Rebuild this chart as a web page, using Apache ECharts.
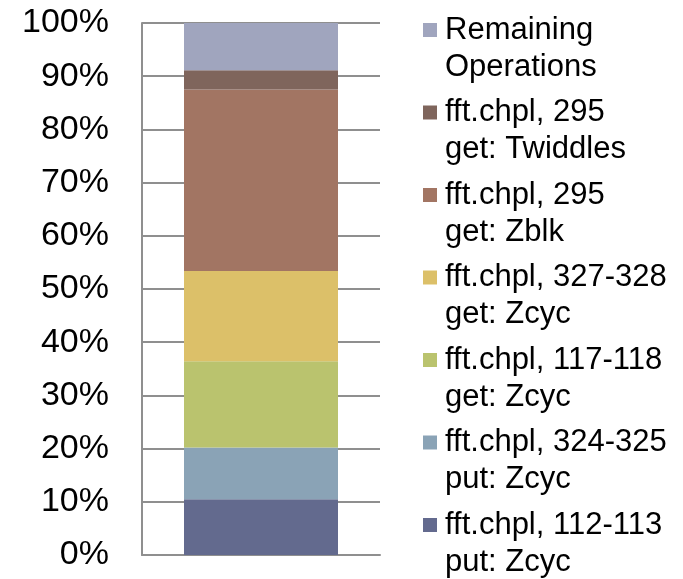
<!DOCTYPE html>
<html>
<head>
<meta charset="utf-8">
<script src="https://cdn.jsdelivr.net/npm/echarts@6/dist/echarts.min.js"></script>
<style>
  html, body { margin: 0; padding: 0; background: #ffffff; }
  #chart { width: 683px; height: 579px; }
</style>
</head>
<body>
<div id="chart"></div>
<script>
// One stacked 100% column, segments listed bottom to top
const categories = ['FFT'];
const seriesNames = [
  'fft.chpl, 112-113\nput: Zcyc',
  'fft.chpl, 324-325\nput: Zcyc',
  'fft.chpl, 117-118\nget: Zcyc',
  'fft.chpl, 327-328\nget: Zcyc',
  'fft.chpl, 295\nget: Zblk',
  'fft.chpl, 295\nget: Twiddles',
  'Remaining\nOperations'
];
const seriesValues = [10.5, 9.7, 16.2, 17.0, 34.1, 3.6, 8.9];
const seriesColors = ['#636a8e', '#8aa3b6', '#bac36e', '#dcc069', '#a27563', '#7f655c', '#a0a5be'];
const yTicks = [0, 10, 20, 30, 40, 50, 60, 70, 80, 90, 100];

const FONT = '"Liberation Sans", Arial, sans-serif';
const LINE_H = 37;
const ITEM_STEP = 82.5;

const chart = echarts.init(document.getElementById('chart'), null, { renderer: 'canvas' });

const series = seriesNames.map((name, i) => ({
  name: name,
  type: 'bar',
  stack: 'total',
  barWidth: 154,
  data: [seriesValues[i]],
  itemStyle: { color: seriesColors[i] },
  emphasis: { disabled: true }
}));

chart.setOption({
  animation: false,
  backgroundColor: '#ffffff',
  grid: { left: 142, right: 303, top: 23, bottom: 24, containLabel: false },
  xAxis: {
    type: 'category',
    data: categories,
    axisLine: { show: true, lineStyle: { color: '#8f8f8f', width: 2 } },
    axisTick: { show: false },
    axisLabel: { show: false },
    splitLine: { show: false }
  },
  yAxis: {
    type: 'value',
    min: yTicks[0],
    max: yTicks[yTicks.length - 1],
    interval: 10,
    axisLine: { show: true, lineStyle: { color: '#8f8f8f', width: 2 } },
    axisTick: { show: false },
    axisLabel: {
      margin: 33,
      color: '#000000',
      fontFamily: FONT,
      fontSize: 34,
      formatter: v => v + '%'
    },
    splitLine: { show: true, lineStyle: { color: '#8f8f8f', width: 2 } }
  },
  legend: {
    orient: 'vertical',
    left: 423,
    top: 30 - LINE_H * 1.5,
    height: 900,
    padding: 0,
    itemWidth: 14,
    itemHeight: 14,
    itemGap: ITEM_STEP - LINE_H * 3,
    icon: 'rect',
    selectedMode: false,
    data: seriesNames.slice().reverse(),
    // a blank leading line keeps the first text line level with the swatch
    formatter: name => '\n' + name,
    textStyle: {
      color: '#000000',
      fontFamily: FONT,
      fontSize: 31,
      lineHeight: LINE_H,
      padding: [0, 0, 0, 3]
    }
  },
  series: series
});
</script>
</body>
</html>
